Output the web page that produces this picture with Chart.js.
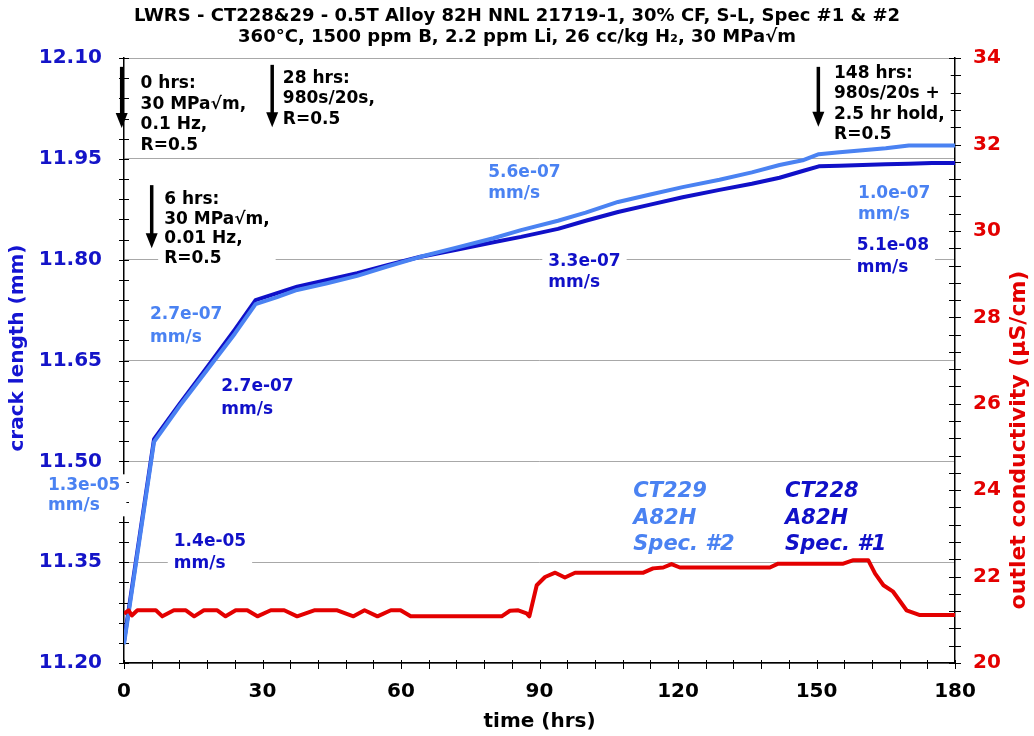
<!DOCTYPE html>
<html><head><meta charset="utf-8">
<script src="https://cdn.jsdelivr.net/npm/chart.js@4"></script>
<style>html,body{margin:0;padding:0;background:#fff}#wrap{width:1034px;height:736px}</style>
</head><body><div id="wrap"><canvas id="c" width="1034" height="736"></canvas></div>
<script>
// ---- data ----
const titleLines = ['LWRS - CT228&29 - 0.5T Alloy 82H NNL 21719-1, 30% CF, S-L, Spec #1 & #2',
                    '360°C, 1500 ppm B, 2.2 ppm Li, 26 cc/kg H\u2082, 30 MPa\u221Am'];
const hours = [0, 6.5, 12, 18, 24, 28.5, 33, 37.5, 44, 50.5, 57, 64, 72, 80, 86, 94, 100, 107, 114, 121, 129, 136, 142, 147, 150.5, 155, 160, 165, 170, 175, 180];
const ct228Crack = [11.232, 11.533, 11.585, 11.640, 11.696, 11.740, 11.750, 11.760, 11.770, 11.780, 11.792, 11.804, 11.815, 11.826, 11.834, 11.846, 11.858, 11.871, 11.882, 11.893, 11.904, 11.913, 11.922, 11.932, 11.939, 11.940, 11.941, 11.942, 11.943, 11.944, 11.944];
const ct229Crack = [11.228, 11.529, 11.582, 11.636, 11.690, 11.734, 11.744, 11.755, 11.765, 11.776, 11.790, 11.804, 11.818, 11.832, 11.844, 11.858, 11.870, 11.886, 11.897, 11.908, 11.919, 11.930, 11.941, 11.948, 11.957, 11.960, 11.963, 11.966, 11.970, 11.970, 11.970];
const condHours = [0, 1, 1.7, 2.9, 6.9, 8.3, 10.8, 13.4, 15.2, 17.3, 20.2, 22, 24.2, 26.7, 28.9, 31.8, 34.7, 37.5, 41.2, 46.2, 49.7, 52.1, 54.9, 57.8, 59.9, 62.1, 81.8, 83.6, 85.4, 87.2, 87.8, 89.4, 91.2, 93.4, 95.5, 97.7, 112.5, 114.6, 116.8, 118.6, 120.4, 139.9, 141.7, 155.8, 158, 161.2, 162.7, 164.5, 166.6, 169.5, 172.4, 180];
const conductivity = [21.14, 21.22, 21.1, 21.22, 21.22, 21.08, 21.22, 21.22, 21.08, 21.22, 21.22, 21.08, 21.22, 21.22, 21.08, 21.22, 21.22, 21.08, 21.22, 21.22, 21.08, 21.22, 21.08, 21.22, 21.22, 21.08, 21.08, 21.21, 21.22, 21.15, 21.08, 21.80, 21.99, 22.09, 21.98, 22.09, 22.09, 22.19, 22.21, 22.29, 22.21, 22.21, 22.30, 22.30, 22.38, 22.38, 22.07, 21.80, 21.65, 21.22, 21.11, 21.11];
const xTicks = [0, 30, 60, 90, 120, 150, 180];
const yTicks = [11.20, 11.35, 11.50, 11.65, 11.80, 11.95, 12.10];
const y2Ticks = [20, 22, 24, 26, 28, 30, 32, 34];

// ---- annotations (anchors in data units: hours, crack length) ----
const DARK = '#1010c8', LIGHT = '#4a82f2', RED = '#e30000';
const noteBlocks = [
  {h: 3.6,   v: 12.062, lines: ['0 hrs:', '30 MPa\u221Am,', '0.1 Hz,', 'R=0.5'], color: '#000', lh: 20.5, box: true},
  {h: 34.4,  v: 12.070, lines: ['28 hrs:', '980s/20s,', 'R=0.5'], color: '#000', lh: 20.5, box: true},
  {h: 8.7,   v: 11.889, lines: ['6 hrs:', '30 MPa\u221Am,', '0.01 Hz,', 'R=0.5'], color: '#000', lh: 19.5, box: true},
  {h: 153.8, v: 12.077, lines: ['148 hrs:', '980s/20s +', '2.5 hr hold,', 'R=0.5'], color: '#000', lh: 20.3, box: true},
  {h: -16.46, v: 11.464, lines: ['1.3e-05', 'mm/s'], color: LIGHT, lh: 20.5, box: true},
  {h: 10.78, v: 11.380, lines: ['1.4e-05', 'mm/s'], color: DARK, lh: 21.5, box: true},
  {h: 5.63,  v: 11.718, lines: ['2.7e-07', 'mm/s'], color: LIGHT, lh: 23, box: true},
  {h: 21.07, v: 11.611, lines: ['2.7e-07', 'mm/s'], color: DARK, lh: 22.6, box: true},
  {h: 78.9,  v: 11.929, lines: ['5.6e-07', 'mm/s'], color: LIGHT, lh: 20.6, box: true},
  {h: 91.9,  v: 11.797, lines: ['3.3e-07', 'mm/s'], color: DARK, lh: 21, box: true},
  {h: 159.0, v: 11.899, lines: ['1.0e-07', 'mm/s'], color: LIGHT, lh: 21.7, box: true},
  {h: 158.7, v: 11.821, lines: ['5.1e-08', 'mm/s'], color: DARK, lh: 22, box: true},
  {h: 110.3, v: 11.455, lines: ['CT229', 'A82H', 'Spec. #2'], color: LIGHT, lh: 26.7, box: false, legend: true},
  {h: 143.2, v: 11.455, lines: ['CT228', 'A82H', 'Spec. #1'], color: DARK, lh: 26.7, box: false, legend: true}
];
const arrows = [
  {h: -0.5, top: 12.087, bottom: 11.996},
  {h: 32.1, top: 12.090, bottom: 11.997},
  {h: 6.0,  top: 11.911, bottom: 11.817},
  {h: 150.4, top: 12.087, bottom: 11.998}
];

const FONT = "'DejaVu Sans', Verdana, sans-serif";

const extras = {
  id: 'extras',
  beforeDatasetsDraw(chart) {
    const {ctx, chartArea: ca, scales: {x, y, y2}} = chart;
    ctx.save();
    // minor / major tick marks crossing the axes
    ctx.strokeStyle = '#000'; ctx.lineWidth = 1;
    ctx.beginPath();
    for (let i = 0; i <= 30; i++) {
      const py = Math.round(y.getPixelForValue(11.2 + i * 0.03)) + 0.5;
      ctx.moveTo(ca.left - 5, py); ctx.lineTo(ca.left + 5, py);
    }
    for (let i = 0; i <= 35; i++) {
      const py = Math.round(y2.getPixelForValue(20 + i * 0.4)) + 0.5;
      ctx.moveTo(ca.right - 6, py); ctx.lineTo(ca.right + 6, py);
    }
    for (let i = 0; i <= 30; i++) {
      const px = Math.round(x.getPixelForValue(i * 6)) + 0.5;
      ctx.moveTo(px, ca.bottom - 3); ctx.lineTo(px, ca.bottom + 6);
    }
    ctx.stroke();

    // text blocks with white backgrounds
    ctx.textBaseline = 'middle';
    ctx.textAlign = 'left';
    for (const b of noteBlocks) {
      ctx.font = b.legend ? `italic bold 21px ${FONT}` : `bold 17px ${FONT}`;
      const px = x.getPixelForValue(b.h);
      const py = y.getPixelForValue(b.v);
      let w = 0;
      for (const l of b.lines) w = Math.max(w, ctx.measureText(l).width);
      if (b.box) {
        ctx.fillStyle = '#fff';
        ctx.fillRect(px - 6, py - b.lh / 2 - 1, w + 12, b.lh * b.lines.length + 1);
      }
      ctx.fillStyle = b.color;
      b.lines.forEach((l, i) => ctx.fillText(l, px, py + i * b.lh));
    }

    // arrows
    ctx.strokeStyle = '#000'; ctx.fillStyle = '#000'; ctx.lineWidth = 3.5;
    for (const a of arrows) {
      const px = x.getPixelForValue(a.h);
      const pt = y.getPixelForValue(a.top);
      const pb = y.getPixelForValue(a.bottom);
      ctx.beginPath(); ctx.moveTo(px, pt); ctx.lineTo(px, pb - 12); ctx.stroke();
      ctx.beginPath(); ctx.moveTo(px - 6, pb - 15); ctx.lineTo(px + 6, pb - 15); ctx.lineTo(px, pb); ctx.closePath(); ctx.fill();
    }
    ctx.restore();
  },
  afterDraw(chart) {
    const {ctx} = chart;
    ctx.save();
    ctx.textAlign = 'center'; ctx.textBaseline = 'middle';
    // left axis title
    ctx.font = `bold 20px ${FONT}`;
    ctx.fillStyle = '#1414d2';
    ctx.save();
    ctx.translate(18, 348);
    ctx.rotate(-Math.PI / 2);
    ctx.fillText('crack length (mm)', 0, 0);
    ctx.restore();
    // right axis title (reads bottom to top)
    ctx.font = `bold 22px ${FONT}`;
    ctx.fillStyle = RED;
    ctx.translate(1019, 440);
    ctx.rotate(-Math.PI / 2);
    ctx.fillText('outlet conductivity (\u00B5S/cm)', 0, 0);
    ctx.restore();
  }
};

const setTicks = arr => scale => { scale.ticks = arr.map(v => ({value: v})); };

new Chart(document.getElementById('c'), {
  type: 'line',
  data: {
    datasets: [
      {label: 'conductivity', data: condHours.map((h, i) => ({x: h, y: conductivity[i]})), yAxisID: 'y2',
       borderColor: RED, borderWidth: 4, pointRadius: 0, tension: 0, order: 0, borderJoinStyle: 'round'},
      {label: 'CT229 A82H Spec. #2', data: hours.map((h, i) => ({x: h, y: ct229Crack[i]})), yAxisID: 'y',
       borderColor: LIGHT, borderWidth: 4, pointRadius: 0, tension: 0, order: 1, borderJoinStyle: 'round'},
      {label: 'CT228 A82H Spec. #1', data: hours.map((h, i) => ({x: h, y: ct228Crack[i]})), yAxisID: 'y',
       borderColor: DARK, borderWidth: 4, pointRadius: 0, tension: 0, order: 2, borderJoinStyle: 'round'}
    ]
  },
  options: {
    responsive: false, animation: false, devicePixelRatio: 1, events: [],
    layout: {padding: 0},
    plugins: {
      legend: {display: false}, tooltip: {enabled: false},
      title: {display: true, text: titleLines, color: '#000',
              font: {family: FONT, size: 18, weight: 'bold', lineHeight: 1.17},
              padding: {top: 6, bottom: 10}}
    },
    scales: {
      x: {type: 'linear', position: 'bottom', min: 0, max: 180,
          afterBuildTicks: setTicks(xTicks),
          afterFit: s => { s.height = 73; },
          grid: {display: false, drawTicks: false},
          border: {display: true, color: '#000', width: 1.5},
          ticks: {color: '#000', font: {family: FONT, size: 20, weight: 'bold'}, padding: 17, maxRotation: 0},
          title: {display: true, text: 'time (hrs)', color: '#000', font: {family: FONT, size: 20, weight: 'bold'}, padding: {top: 0, bottom: 2}}},
      y: {type: 'linear', position: 'left', min: 11.2, max: 12.1,
          afterBuildTicks: setTicks(yTicks),
          afterFit: s => { s.width = 124; },
          grid: {color: '#a8a8a8', lineWidth: 1, drawTicks: false},
          border: {display: true, color: '#000', width: 1.5},
          ticks: {color: '#1414c8', font: {family: FONT, size: 20, weight: 'bold'}, padding: 22, callback: v => Number(v).toFixed(2)}},
      y2: {type: 'linear', position: 'right', min: 20, max: 34,
          afterBuildTicks: setTicks(y2Ticks),
          afterFit: s => { s.width = 79; },
          grid: {display: false, drawTicks: false},
          border: {display: true, color: '#000', width: 1.5},
          ticks: {color: RED, font: {family: FONT, size: 20, weight: 'bold'}, padding: 18}}
    }
  },
  plugins: [extras]
});
</script></body></html>
